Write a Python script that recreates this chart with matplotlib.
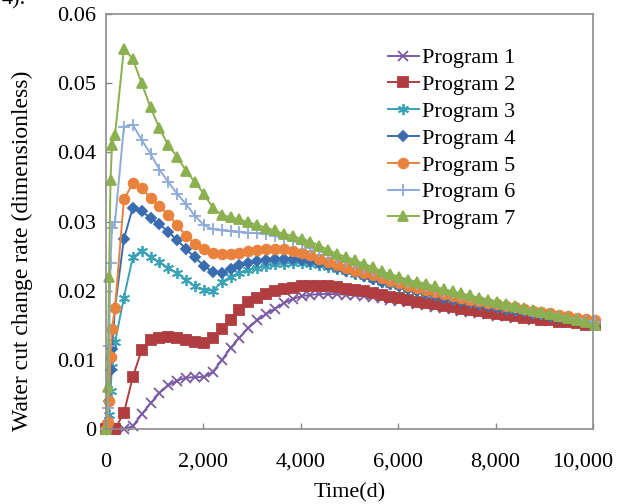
import matplotlib
matplotlib.use("Agg")
import matplotlib.pyplot as plt
from matplotlib.transforms import ScaledTranslation

plt.rcParams['font.family'] = ['Liberation Serif', 'DejaVu Serif']
plt.rcParams['font.size'] = 16

# time axis: monthly at the start, then every half year
time_d = [0, 30, 60, 90, 120] + [182.5 * k for k in range(1, 56)]

prog1 = [0, 0, 0, 0, 0, 0, 0, 0.0004, 0.0021, 0.0037,
         0.0052, 0.0063, 0.0070, 0.0074, 0.0075, 0.0075, 0.0082, 0.0099, 0.0117, 0.0132,
         0.0146, 0.0157, 0.0166, 0.0174, 0.0182, 0.0188, 0.0192, 0.0194, 0.0195, 0.0195,
         0.0195, 0.0194, 0.0193, 0.0192, 0.0191, 0.0189, 0.0187, 0.0185, 0.0183, 0.0181,
         0.0179, 0.0177, 0.0175, 0.0173, 0.0171, 0.0169, 0.0168, 0.0166, 0.0164, 0.0163,
         0.0161, 0.0160, 0.0158, 0.0157, 0.0156, 0.0155, 0.0154, 0.0153, 0.0152, 0.0151]
prog2 = [0, 0, 0, 0, 0, 0, 0.0023, 0.0075, 0.0114, 0.0128,
         0.0132, 0.0133, 0.0131, 0.0128, 0.0125, 0.0124, 0.0131, 0.0145, 0.0158, 0.0172,
         0.0183, 0.0190, 0.0195, 0.0199, 0.0202, 0.0204, 0.0206, 0.0207, 0.0207, 0.0206,
         0.0205, 0.0203, 0.0201, 0.0199, 0.0197, 0.0194, 0.0191, 0.0189, 0.0186, 0.0184,
         0.0182, 0.0180, 0.0178, 0.0176, 0.0174, 0.0172, 0.0170, 0.0168, 0.0166, 0.0165,
         0.0163, 0.0161, 0.0160, 0.0158, 0.0157, 0.0155, 0.0154, 0.0153, 0.0151, 0.0150]
prog3 = [0, 0.0005, 0.0020, 0.0055, 0.0090, 0.0125, 0.0190, 0.0248, 0.0258, 0.0249,
         0.0241, 0.0233, 0.0225, 0.0216, 0.0206, 0.0201, 0.0200, 0.0212, 0.0220, 0.0226,
         0.0230, 0.0233, 0.0236, 0.0238, 0.0239, 0.0240, 0.0240, 0.0239, 0.0237, 0.0234,
         0.0231, 0.0228, 0.0224, 0.0221, 0.0217, 0.0213, 0.0210, 0.0206, 0.0203, 0.0200,
         0.0197, 0.0194, 0.0191, 0.0188, 0.0186, 0.0183, 0.0181, 0.0179, 0.0176, 0.0174,
         0.0172, 0.0170, 0.0168, 0.0166, 0.0164, 0.0162, 0.0160, 0.0158, 0.0156, 0.0154]
prog4 = [0, 0.0010, 0.0040, 0.0085, 0.0115, 0.0175, 0.0275, 0.0320, 0.0315, 0.0305,
         0.0296, 0.0285, 0.0273, 0.0260, 0.0248, 0.0236, 0.0227, 0.0226, 0.0232, 0.0237,
         0.0240, 0.0243, 0.0245, 0.0246, 0.0246, 0.0246, 0.0245, 0.0243, 0.0240, 0.0237,
         0.0233, 0.0229, 0.0225, 0.0221, 0.0217, 0.0213, 0.0209, 0.0206, 0.0202, 0.0199,
         0.0196, 0.0193, 0.0190, 0.0188, 0.0185, 0.0183, 0.0181, 0.0178, 0.0176, 0.0174,
         0.0172, 0.0170, 0.0168, 0.0166, 0.0164, 0.0162, 0.0160, 0.0158, 0.0156, 0.0154]
prog5 = [0, 0.0010, 0.0040, 0.0104, 0.0145, 0.0175, 0.0332, 0.0355, 0.0348, 0.0334,
         0.0322, 0.0310, 0.0295, 0.0279, 0.0268, 0.0260, 0.0255, 0.0253, 0.0253, 0.0255,
         0.0257, 0.0259, 0.0260, 0.0260, 0.0260, 0.0258, 0.0255, 0.0251, 0.0246, 0.0242,
         0.0237, 0.0233, 0.0229, 0.0226, 0.0222, 0.0218, 0.0214, 0.0211, 0.0207, 0.0204,
         0.0201, 0.0198, 0.0195, 0.0192, 0.0189, 0.0187, 0.0185, 0.0182, 0.0180, 0.0178,
         0.0176, 0.0173, 0.0171, 0.0169, 0.0167, 0.0165, 0.0163, 0.0161, 0.0159, 0.0157]
prog6 = [0, 0.0030, 0.0120, 0.0240, 0.0290, 0.0300, 0.0437, 0.0440, 0.0418, 0.0398,
         0.0375, 0.0357, 0.0340, 0.0325, 0.0308, 0.0295, 0.0289, 0.0287, 0.0286, 0.0285,
         0.0284, 0.0283, 0.0282, 0.0279, 0.0276, 0.0272, 0.0267, 0.0262, 0.0257, 0.0252,
         0.0247, 0.0243, 0.0238, 0.0233, 0.0229, 0.0225, 0.0221, 0.0217, 0.0213, 0.0209,
         0.0206, 0.0203, 0.0200, 0.0197, 0.0194, 0.0191, 0.0188, 0.0185, 0.0182, 0.0179,
         0.0176, 0.0174, 0.0171, 0.0168, 0.0166, 0.0163, 0.0161, 0.0159, 0.0156, 0.0154]
prog7 = [0, 0.0060, 0.0220, 0.0360, 0.0410, 0.0425, 0.0550, 0.0535, 0.0500, 0.0465,
         0.0435, 0.0410, 0.0394, 0.0373, 0.0357, 0.0340, 0.0320, 0.0310, 0.0306, 0.0303,
         0.0299, 0.0295, 0.0291, 0.0287, 0.0282, 0.0279, 0.0275, 0.0271, 0.0265, 0.0259,
         0.0253, 0.0249, 0.0244, 0.0239, 0.0234, 0.0228, 0.0224, 0.0220, 0.0216, 0.0213,
         0.0210, 0.0206, 0.0202, 0.0199, 0.0196, 0.0193, 0.0190, 0.0187, 0.0184, 0.0181,
         0.0178, 0.0175, 0.0172, 0.0169, 0.0166, 0.0163, 0.0160, 0.0157, 0.0154, 0.0151]

labels = ['Program 1', 'Program 2', 'Program 3', 'Program 4',
          'Program 5', 'Program 6', 'Program 7']
xticks = [0, 2000, 4000, 6000, 8000, 10000]
xtick_labels = ['0', '2,000', '4,000', '6,000', '8,000', '10,000']
yticks = [0, 0.01, 0.02, 0.03, 0.04, 0.05, 0.06]
ytick_labels = ['0', '0.01', '0.02', '0.03', '0.04', '0.05', '0.06']

series = [prog1, prog2, prog3, prog4, prog5, prog6, prog7]
colors = ['#7A5BA3', '#B03E40', '#3AA3B8', '#3A6DB0', '#E8823C', '#8EABD8', '#8AB04F']
markers = ['x', 's', (6, 2, 0), 'D', 'o', '+', '^']
msizes = [7, 6.5, 8, 5, 7, 8, 7.5]

fig = plt.figure(figsize=(6.17, 5.04), dpi=100)
ax = fig.add_axes([0.172, 0.149, 0.789, 0.823])

for vals, lab, c, m, ms in zip(series, labels, colors, markers, msizes):
    ax.plot(time_d, vals, color=c, marker=m, markersize=ms, lw=1.4,
            markeredgewidth=1.3, label=lab, clip_on=False)

ax.set_xlim(0, 10000)
ax.set_ylim(0, 0.06)
ax.set_xticks(xticks)
ax.set_xticklabels(xtick_labels)
ax.set_yticks(yticks)
ax.set_yticklabels(ytick_labels)
ax.tick_params(direction='in', length=4, width=1, color='#888888')
ax.tick_params(axis='y', pad=7)
ax.tick_params(axis='x', pad=17)
for sp in ax.spines.values():
    sp.set_color('#8c8c8c')
    sp.set_linewidth(1.2)

# the last x label sits right at the figure edge, pull it in a little
last = ax.get_xticklabels()[-1]
last.set_transform(last.get_transform() + ScaledTranslation(-0.10, 0, fig.dpi_scale_trans))

ax.set_xlabel('Time(d)')
ax.xaxis.set_label_coords(0.5, -0.13)
ax.set_ylabel('Water cut change rate (dimensionless)', fontsize=17)
ax.yaxis.set_label_coords(-0.15, 0.43)

ax.legend(loc='upper left', bbox_to_anchor=(0.56, 0.94), frameon=False,
          fontsize=16, handlelength=1.4, handletextpad=0.15, labelspacing=0.28,
          borderaxespad=0, numpoints=1)

fig.text(0.003, 1.0, '4).', ha='left', va='center', fontsize=16)

fig.savefig('out.png', dpi=100)
